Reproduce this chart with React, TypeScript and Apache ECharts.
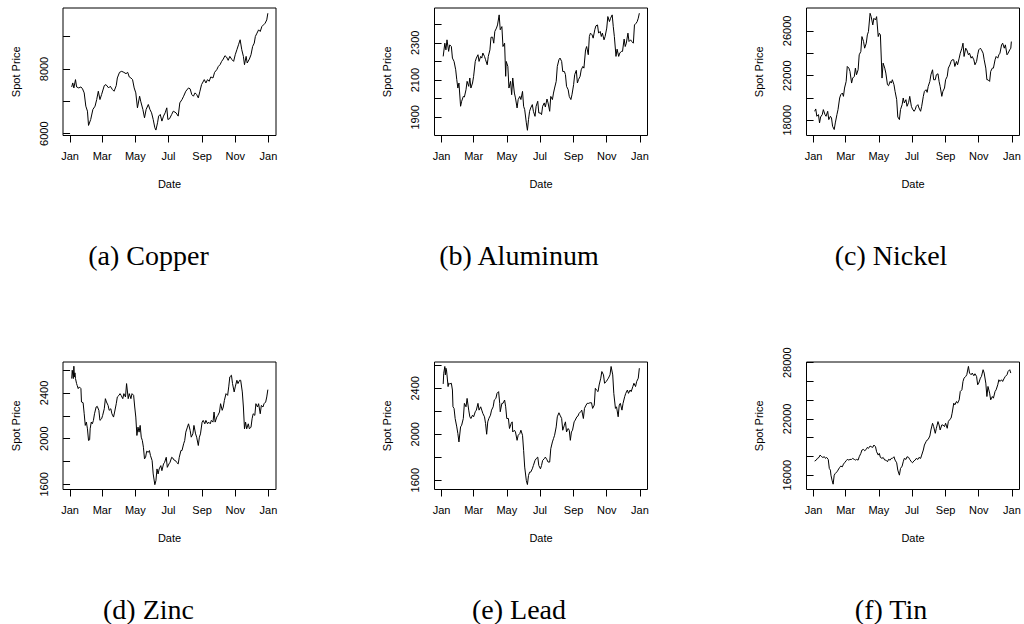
import React, { useEffect, useRef } from 'react';
import * as echarts from 'echarts';

// ---------- shared axis data ----------
const monthTickDays = [0, 59, 120, 181, 243, 304, 365];
const monthTickLabels = ['Jan', 'Mar', 'May', 'Jul', 'Sep', 'Nov', 'Jan'];
const X_MIN = -13;
const X_MAX = 379;

// ---------- (a) Copper ----------
const copperDays = [3,5,7,10,12,16,20,23,26,29,32,34,38,42,46,49,52,55,58,63,66,71,74,78,81,85,87,91,95,99,103,106,109,112,115,118,121,124,128,130,134,137,140,144,147,150,153,156,158,161,163,166,169,172,175,178,180,183,187,190,195,199,202,206,209,213,218,221,224,227,230,233,236,239,242,247,250,253,256,259,263,266,270,273,276,279,282,285,288,291,294,298,301,304,307,310,313,316,319,321,324,326,330,333,336,339,341,344,347,350,353,356,359,362,364];
const copperPrices = [7446,7569,7415,7672,7446,7415,7446,7385,7262,6851,6697,6256,6441,6749,6851,7056,7313,7056,7210,7487,7518,7415,7467,7364,7313,7487,7723,7897,7928,7897,7856,7897,7754,7723,7672,7415,7262,6800,7159,7005,6749,6492,6749,6903,6749,6646,6441,6185,6113,6338,6544,6595,6390,6544,6646,6800,6441,6462,6595,6697,6646,6544,6954,7056,7159,7313,7415,7385,7210,7159,7262,7210,7108,7313,7518,7672,7569,7672,7620,7754,7723,7897,7979,8082,8133,8236,8308,8410,8369,8267,8390,8287,8236,8441,8595,8749,8903,8595,8390,8133,8390,8185,8308,8441,8697,8800,9005,9108,9210,9159,9313,9364,9415,9518,9723];
const copperTicks = [6000, 7000, 8000, 9000];
const copperLabels = [6000, 8000];

// ---------- (b) Aluminum ----------
const aluminumDays = [3,6,8,10,13,15,18,20,23,26,28,30,32,35,37,40,42,45,47,50,52,54,57,59,62,64,67,69,72,74,76,79,81,84,86,89,91,94,96,98,101,103,106,108,111,113,116,118,119,122,124,127,129,131,134,136,139,141,144,146,149,151,153,156,158,160,162,164,167,169,172,174,177,179,182,184,186,189,191,194,196,199,201,204,206,208,211,213,216,218,221,223,226,228,230,233,235,238,240,243,245,248,250,252,255,257,260,262,265,267,270,272,274,277,279,282,284,287,289,292,294,296,299,301,304,306,309,311,314,316,318,321,323,326,328,331,333,336,338,340,343,345,348,350,353,355,358,360,362,364];
const aluminumPrices = [2227,2298,2262,2316,2254,2289,2280,2218,2200,2155,2102,2057,2084,1959,1986,2012,2009,2048,2093,2066,2111,2057,2084,2120,2200,2218,2236,2200,2227,2218,2245,2227,2209,2182,2227,2262,2330,2330,2298,2361,2379,2396,2450,2370,2387,2280,2298,2120,2200,2173,2057,2093,2021,2111,2030,2004,1950,1995,2012,1995,2039,1959,1941,1870,1830,1887,1932,1950,1968,1932,1905,1959,1986,1923,1923,1914,1959,1977,1955,1998,1977,1932,2012,1995,2030,2057,2093,2173,2209,2218,2200,2146,2146,2129,2066,2048,2012,1995,2021,2075,2129,2152,2084,2102,2120,2155,2173,2164,2262,2280,2236,2334,2352,2343,2325,2370,2391,2396,2352,2361,2334,2352,2316,2334,2379,2441,2414,2432,2450,2387,2334,2227,2266,2227,2245,2254,2254,2320,2280,2298,2352,2307,2316,2307,2298,2396,2405,2414,2432,2459];
const aluminumTicks = [1900, 2000, 2100, 2200, 2300, 2400];
const aluminumLabels = [1900, 2100, 2300];

// ---------- (c) Nickel ----------
const nickelDays = [2,4,6,9,11,13,16,18,21,23,26,28,31,33,35,38,40,43,45,48,50,53,55,57,60,62,65,67,70,72,75,77,79,82,84,87,89,92,94,97,99,101,104,106,109,111,114,116,119,121,123,126,128,131,133,136,138,141,143,145,148,150,153,155,158,160,163,165,167,170,172,175,177,180,182,185,187,189,192,194,197,199,202,204,207,209,211,214,216,219,221,224,226,229,231,233,236,238,241,243,246,248,251,253,255,258,260,263,265,268,270,273,275,277,280,282,285,287,290,292,295,297,300,302,304,307,309,312,314,317,319,321,324,326,329,331,334,336,339,341,343,346,348,351,353,356,358,361,363,364];
const nickelPrices = [18803,19011,18357,18506,17762,18297,18506,18952,18506,18357,18803,18059,18357,18208,17465,17167,17762,18506,18952,19993,20290,20439,20141,20885,21480,22818,22669,22372,21331,21777,21926,22669,22074,22520,23859,24156,25494,25048,24454,24900,25643,25940,27576,27279,26535,27130,26982,27279,25494,25791,25643,21777,23115,22669,22223,21182,21093,21480,21331,21628,21182,20587,19844,18297,18059,18952,19398,19993,19547,19844,19249,19606,20141,19249,19011,18803,18952,19249,19398,19100,18803,19249,20141,20587,20736,20498,21033,21480,22074,22520,21628,21628,22074,22164,21480,21033,20141,20587,20885,21628,21926,22669,22966,23264,23413,23413,22818,23264,22966,23561,24007,24454,24900,23710,24454,24305,23859,24007,23561,23710,23413,22966,23264,23859,24305,24454,24305,24007,23413,22669,21628,21628,21480,22372,22669,22669,23413,23710,23561,23859,24007,24751,24900,24454,24751,23859,24007,24305,24454,25048];
const nickelTicks = [18000, 20000, 22000, 24000, 26000];
const nickelLabels = [18000, 22000, 26000];

// ---------- (d) Zinc ----------
const zincDays = [3,4,6,7,8,9,10,12,13,15,17,20,21,24,26,28,30,32,34,36,37,39,41,43,45,48,50,53,55,58,60,63,65,67,70,72,75,77,80,82,85,87,90,92,94,97,99,102,104,107,109,112,114,117,119,121,123,125,127,129,131,133,135,137,139,141,144,146,148,151,153,156,158,160,162,164,167,169,172,174,177,179,182,184,187,189,191,194,196,199,201,204,206,209,211,213,216,218,221,223,226,228,231,233,236,238,240,243,245,248,250,253,255,258,260,263,265,267,270,272,275,277,280,282,284,287,290,292,294,297,299,302,304,307,309,312,314,317,319,321,323,325,328,330,333,335,337,340,342,345,347,350,352,355,357,360,362,364];
const zincPrices = [2526,2599,2526,2634,2541,2576,2526,2482,2467,2438,2453,2438,2321,2315,2218,2116,2145,2086,1984,1990,2086,2145,2130,2160,2218,2277,2283,2248,2160,2174,2204,2262,2350,2321,2291,2248,2262,2218,2189,2233,2306,2365,2379,2394,2379,2350,2394,2365,2482,2350,2394,2350,2394,2379,2277,2189,2028,2101,2057,2116,2013,1984,1925,1823,1837,1890,1881,1896,1852,1808,1691,1597,1632,1735,1691,1735,1764,1720,1779,1793,1837,1749,1779,1793,1837,1831,1814,1808,1793,1779,1837,1896,1896,1955,1984,2057,2101,2130,2072,2013,2042,2116,2042,2013,1940,2013,2042,2145,2160,2130,2160,2130,2145,2130,2160,2145,2233,2145,2189,2204,2233,2306,2248,2277,2335,2394,2379,2453,2541,2555,2482,2409,2453,2511,2482,2511,2511,2409,2277,2086,2145,2086,2130,2086,2101,2174,2218,2204,2306,2277,2306,2218,2291,2277,2306,2321,2365,2429];
const zincTicks = [1600, 1800, 2000, 2200, 2400, 2600];
const zincLabels = [1600, 2000, 2400];

// ---------- (e) Lead ----------
const leadDays = [3,4,6,7,8,9,10,12,13,15,18,20,21,23,25,28,30,32,35,37,40,42,45,47,50,52,54,57,59,62,64,67,69,72,74,76,79,81,83,85,87,90,92,95,97,100,102,105,107,108,111,113,116,118,120,123,125,128,130,131,134,136,139,141,144,146,149,151,153,156,158,160,162,164,167,169,172,174,177,179,182,184,186,189,191,194,196,199,201,204,206,208,211,213,216,218,221,223,226,228,230,233,235,237,239,241,244,246,249,251,253,256,258,261,263,266,268,271,273,276,278,281,283,285,288,290,293,295,298,300,303,305,307,310,312,315,317,320,322,325,327,329,332,334,337,339,342,344,347,349,352,354,357,359,362,364];
const leadPrices = [2438,2531,2590,2517,2575,2561,2517,2415,2444,2438,2444,2385,2239,2225,2137,2064,2006,1933,2064,2079,2137,2269,2239,2312,2210,2152,2137,2166,2152,2196,2210,2269,2210,2239,2210,2181,2152,2093,2000,2108,2137,2166,2210,2239,2298,2312,2356,2371,2269,2196,2269,2269,2298,2239,2137,2137,2050,2093,2108,2020,2035,2020,1947,1991,2006,2035,1991,1860,1714,1597,1562,1641,1670,1670,1699,1728,1772,1787,1801,1728,1699,1728,1772,1787,1801,1778,1758,1758,1874,1933,1962,1991,2064,2152,2187,2166,2137,2035,2079,2108,2020,2050,2035,1947,2020,2035,2108,2123,2152,2158,2181,2196,2210,2137,2225,2254,2269,2269,2274,2274,2225,2254,2400,2385,2371,2429,2488,2546,2517,2444,2458,2473,2488,2517,2590,2517,2356,2225,2239,2152,2254,2269,2210,2269,2327,2356,2385,2356,2385,2371,2415,2444,2415,2458,2488,2575];
const leadTicks = [1600, 1800, 2000, 2200, 2400, 2600];
const leadLabels = [1600, 2000, 2400];

// ---------- (f) Tin ----------
const tinDays = [2,5,7,10,12,15,17,20,22,24,27,29,31,32,34,36,38,40,43,45,48,50,53,55,57,60,62,65,67,70,72,75,77,79,82,84,87,89,92,94,97,99,101,104,106,109,111,114,116,119,121,123,126,128,131,133,136,138,141,143,145,148,150,153,155,158,160,163,165,167,170,172,175,177,180,182,185,187,189,192,194,197,199,202,204,207,209,211,214,216,219,221,224,226,229,231,233,236,238,241,243,246,248,251,253,255,258,260,263,265,268,270,273,275,277,280,282,285,287,290,292,295,297,300,302,304,307,309,312,314,317,319,321,324,326,329,331,334,336,339,341,343,346,348,351,353,356,358,361,363];
const tinPrices = [17500,17607,17786,17893,18143,17964,17893,17964,17786,17893,17679,16714,16536,16000,15464,15036,16000,16179,16357,16536,16821,16964,16893,17179,17321,17536,17679,17607,17679,17679,17786,17679,17607,17679,17607,17964,18321,18679,18750,18607,18750,18964,18857,19107,19036,18964,19214,19036,18500,18143,18321,17893,17786,17893,17607,17607,17429,17679,17607,17786,17786,17964,17607,17321,16536,16000,16714,16964,17429,17786,17679,17964,17893,17679,17429,17321,17536,17607,17786,17679,17893,17786,18143,18679,19214,19571,19750,19821,20179,20821,21536,21179,20464,21000,21714,21357,20821,21357,21357,21179,21536,21000,21714,21964,22071,22607,23679,23500,23857,23679,24036,24929,25107,26000,26357,26536,26714,27607,26893,26714,26893,26607,26821,26536,25643,25821,26357,26536,27250,26893,25821,24393,25464,24750,24036,24393,24214,24929,25107,25643,26179,26000,26179,26000,26357,26536,26714,27071,27250,26893];
const tinTicks = [16000, 18000, 20000, 22000, 24000, 26000, 28000];
const tinLabels = [16000, 22000, 28000];

// ---------- panel definitions ----------
const panels = [
  { caption: '(a) Copper', days: copperDays, prices: copperPrices, yMin: 5945, yMax: 9885, ticks: copperTicks, labels: copperLabels },
  { caption: '(b) Aluminum', days: aluminumDays, prices: aluminumPrices, yMin: 1802, yMax: 2487, ticks: aluminumTicks, labels: aluminumLabels },
  { caption: '(c) Nickel', days: nickelDays, prices: nickelPrices, yMin: 16635, yMax: 28052, ticks: nickelTicks, labels: nickelLabels },
  { caption: '(d) Zinc', days: zincDays, prices: zincPrices, yMin: 1555, yMax: 2671, ticks: zincTicks, labels: zincLabels },
  { caption: '(e) Lead', days: leadDays, prices: leadPrices, yMin: 1519, yMax: 2629, ticks: leadTicks, labels: leadLabels },
  { caption: '(f) Tin', days: tinDays, prices: tinPrices, yMin: 14468, yMax: 28075, ticks: tinTicks, labels: tinLabels },
];

const colLefts = [63, 434.5, 806.5];
const rowTops = [8, 362];
const PLOT_W = 213;
const PLOT_H = 127.5;
const captionCenters = [148.5, 519, 891];
const captionMiddles = [255.5, 609];

const SANS = '"Liberation Sans", Arial, Helvetica, sans-serif';
const SERIF = '"Liberation Serif", "Times New Roman", serif';

export default function App() {
  const ref = useRef<HTMLDivElement>(null);

  useEffect(() => {
    if (!ref.current) return;
    const chart = echarts.init(ref.current, null, { renderer: 'svg' });

    const grids: any[] = [];
    const xAxes: any[] = [];
    const yAxes: any[] = [];
    const series: any[] = [];
    const graphics: any[] = [];

    panels.forEach((p, i) => {
      const col = i % 3;
      const row = Math.floor(i / 3);
      grids.push({
        left: colLefts[col],
        top: rowTops[row],
        width: PLOT_W,
        height: PLOT_H,
        show: true,
        borderColor: '#000',
        borderWidth: 1,
        backgroundColor: 'transparent',
        containLabel: false,
        outerBoundsMode: 'none',
      });
      xAxes.push({
        type: 'value',
        gridIndex: i,
        min: X_MIN,
        max: X_MAX,
        name: 'Date',
        nameLocation: 'middle',
        nameGap: 43,
        nameTextStyle: { fontFamily: SANS, fontSize: 11, color: '#000' },
        axisLine: { show: false },
        splitLine: { show: false },
        axisTick: {
          show: true,
          inside: false,
          length: 7,
          lineStyle: { color: '#000', width: 1 },
          customValues: monthTickDays,
        },
        axisLabel: {
          show: true,
          margin: 15,
          customValues: monthTickDays,
          formatter: (v: number) => {
            const k = monthTickDays.indexOf(Math.round(v));
            return k >= 0 ? monthTickLabels[k] : '';
          },
          fontFamily: SANS,
          fontSize: 11,
          color: '#000',
        },
      });
      yAxes.push({
        type: 'value',
        gridIndex: i,
        min: p.yMin,
        max: p.yMax,
        name: 'Spot Price',
        nameLocation: 'middle',
        nameGap: 42,
        nameRotate: 90,
        nameTextStyle: { fontFamily: SANS, fontSize: 11, color: '#000' },
        axisLine: { show: false },
        splitLine: { show: false },
        axisTick: {
          show: true,
          inside: false,
          length: 7,
          lineStyle: { color: '#000', width: 1 },
          customValues: p.ticks,
        },
        axisLabel: {
          show: true,
          rotate: 90,
          margin: 14,
          customValues: p.labels,
          formatter: (v: number) => String(Math.round(v)),
          fontFamily: SANS,
          fontSize: 11,
          color: '#000',
        },
      });
      const n = Math.min(p.days.length, p.prices.length);
      const data: number[][] = [];
      for (let k = 0; k < n; k++) data.push([p.days[k], p.prices[k]]);
      series.push({
        type: 'line',
        xAxisIndex: i,
        yAxisIndex: i,
        data,
        showSymbol: false,
        symbol: 'none',
        clip: true,
        lineStyle: { color: '#000', width: 1 },
        itemStyle: { color: '#000' },
        emphasis: { disabled: true },
        z: 3,
      });
      graphics.push({
        type: 'text',
        x: captionCenters[col],
        y: captionMiddles[row],
        style: {
          text: p.caption,
          fontFamily: SERIF,
          fontSize: 28,
          fill: '#000',
          align: 'center',
          verticalAlign: 'middle',
        },
      });
    });

    chart.setOption({
      animation: false,
      backgroundColor: '#fff',
      grid: grids,
      xAxis: xAxes,
      yAxis: yAxes,
      series,
      graphic: graphics,
      tooltip: { show: false },
    });

    return () => {
      chart.dispose();
    };
  }, []);

  return (
    <div
      ref={ref}
      style={{ position: 'absolute', left: 0, top: 0, width: 1024, height: 624, background: '#fff' }}
    />
  );
}
